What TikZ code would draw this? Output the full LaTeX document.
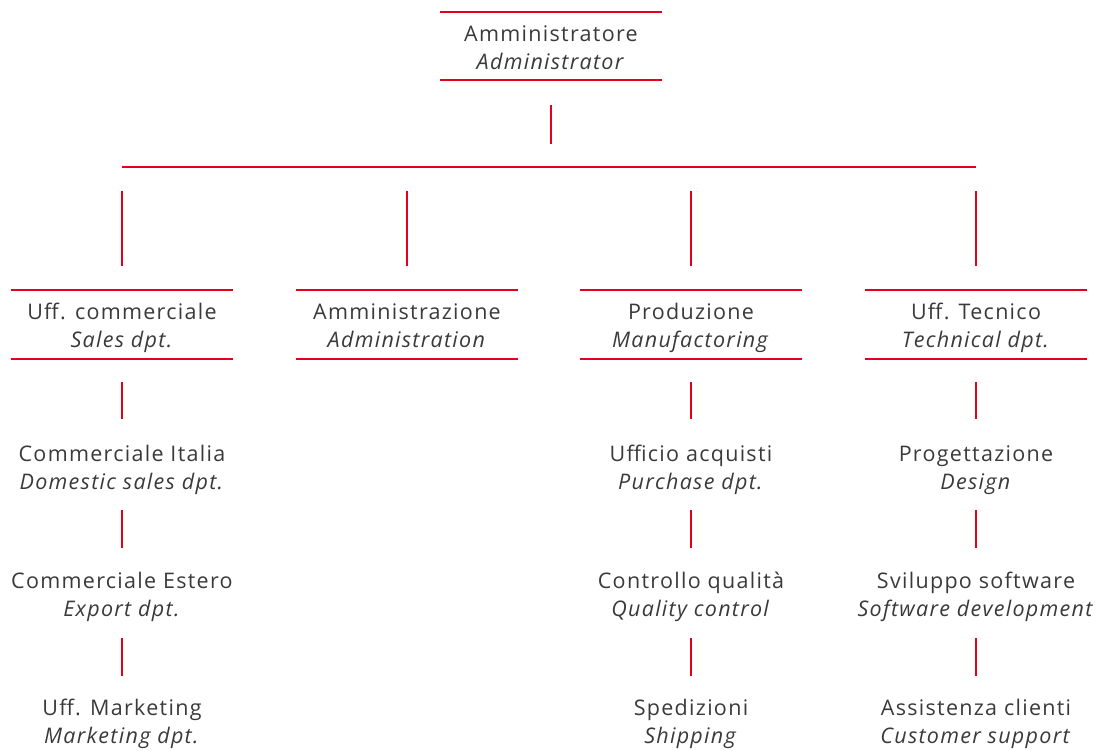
\documentclass[tikz,border=0pt]{standalone}
\usepackage{fontspec}
\setmainfont[LetterSpace=6]{Open Sans}
\definecolor{cred}{HTML}{E2001A}
\definecolor{ctext}{HTML}{3A3A3A}
\begin{document}
\begin{tikzpicture}[x=1pt,y=-1pt,
  lbl/.style={minimum width=222pt,minimum height=68pt,inner sep=0pt,align=center,
    text=ctext,font=\fontsize{21.5}{28}\selectfont},
  rule/.style={draw=cred,line width=2pt},
  conn/.style={draw=cred,line width=1.3pt},
  bus/.style={draw=cred,line width=1.1pt}]
\useasboundingbox (0,0) rectangle (1099,750);
\newcommand{\tx}[2]{\rule{0pt}{25pt}#1\\\textit{#2}\rule[-7pt]{0pt}{7pt}}
% top
\node[lbl] (adm) at (551,46) {\tx{Amministratore}{Administrator}};
% level 2
\node[lbl] (sal) at (122,324.5) {\tx{Uff. commerciale}{Sales dpt.}};
\node[lbl] (amm) at (407,324.5) {\tx{Amministrazione}{Administration}};
\node[lbl] (pro) at (691,324.5) {\tx{Produzione}{Manufactoring}};
\node[lbl] (tec) at (976,324.5) {\tx{Uff. Tecnico}{Technical dpt.}};
\foreach \n in {adm,sal,amm,pro,tec}{
  \draw[rule] (\n.north west) -- (\n.north east);
  \draw[rule] (\n.south west) -- (\n.south east);
}
% level 3-5
\node[lbl] (ci) at (122,466) {\tx{Commerciale Italia}{Domestic sales dpt.}};
\node[lbl] (ce) at (122,593) {\tx{Commerciale Estero}{Export dpt.}};
\node[lbl] (um) at (122,720) {\tx{Uff. Marketing}{Marketing dpt.}};
\node[lbl] (ua) at (691,466) {\tx{Ufficio acquisti}{Purchase dpt.}};
\node[lbl] (cq) at (691,593) {\tx{Controllo qualità}{Quality control}};
\node[lbl] (sp) at (691,720) {\tx{Spedizioni}{Shipping}};
\node[lbl] (pg) at (976,466) {\tx{Progettazione}{Design}};
\node[lbl] (ss) at (976,593) {\tx{Sviluppo software}{Software development}};
\node[lbl] (ac) at (976,720) {\tx{Assistenza clienti}{Customer support}};
% bus
\coordinate (bL) at (122,167);
\coordinate (bR) at (976,167);
\coordinate (bT) at (551,167);
\draw[bus] (bL) -- (bR);
\draw[conn,shorten <=25pt,shorten >=23pt] (adm.south) -- (bT);
\foreach \n in {sal,amm,pro,tec}{
  \draw[conn,shorten <=24pt,shorten >=24pt] (\n.north |- bL) -- (\n.north);
}
\foreach \a/\b in {sal/ci,pro/ua,tec/pg}{
  \draw[conn,shorten <=23.5pt,shorten >=13pt] (\a.south) -- (\b.north);
}
\foreach \a/\b in {ci/ce,ua/cq,pg/ss}{
  \draw[conn,shorten <=10pt,shorten >=11pt] (\a.south) -- (\b.north);
}
\foreach \a/\b in {ce/um,cq/sp,ss/ac}{
  \draw[conn,shorten <=11pt,shorten >=10pt] (\a.south) -- (\b.north);
}
\end{tikzpicture}
\end{document}
